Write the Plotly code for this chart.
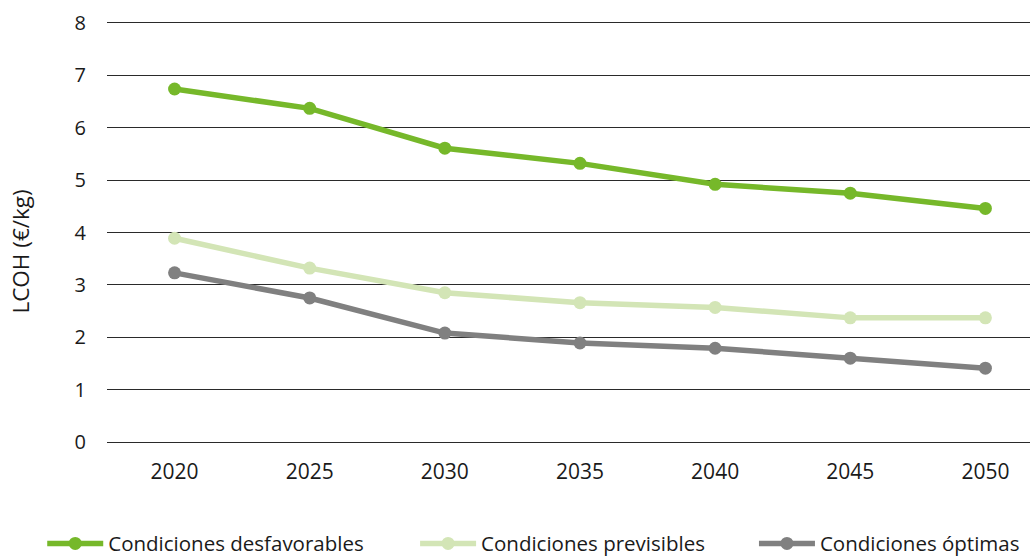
import plotly.graph_objects as go

years = ["2020", "2025", "2030", "2035", "2040", "2045", "2050"]
desfavorables = [6.74, 6.37, 5.61, 5.32, 4.92, 4.75, 4.46]
previsibles = [3.89, 3.32, 2.85, 2.66, 2.57, 2.37, 2.37]
optimas = [3.23, 2.75, 2.08, 1.89, 1.79, 1.60, 1.41]

series = [
    ("Condiciones desfavorables", desfavorables, "#76b82a", "legend", 0.041),
    ("Condiciones previsibles", previsibles, "#d3e5b6", "legend2", 0.403),
    ("Condiciones óptimas", optimas, "#808080", "legend3", 0.732),
]

FONT = "Open Sans"
TEXT = "#1a1a1a"
GRID = "#2a2a2a"

fig = go.Figure()
legends = {}
for name, vals, color, leg, lx in series:
    fig.add_trace(go.Scatter(
        x=years, y=vals, name=name, mode="lines+markers",
        line=dict(color=color, width=5.5),
        marker=dict(color=color, size=13),
        legend=leg,
    ))
    legends[leg] = dict(
        orientation="h", xref="container", yref="container",
        x=lx, xanchor="left", y=0.024, yanchor="middle",
        itemwidth=56, font=dict(family=FONT, size=20.5, color=TEXT),
        bgcolor="rgba(0,0,0,0)",
    )

fig.update_layout(
    width=1030, height=557,
    margin=dict(l=107, r=0, t=23, b=115),
    paper_bgcolor="white", plot_bgcolor="white",
    font=dict(family=FONT, size=20, color=TEXT),
    showlegend=True,
    xaxis=dict(
        type="category", range=[-0.5, 6.33],
        showgrid=False, zeroline=False,
        showline=True, mirror=True, linecolor=GRID, linewidth=1.2,
        ticks="", tickfont=dict(size=21, color=TEXT), ticklabelstandoff=11,
    ),
    yaxis=dict(
        range=[0, 8], dtick=1, tick0=0,
        showgrid=True, gridcolor=GRID, gridwidth=1.2,
        zeroline=False, showline=False, ticks="",
        tickfont=dict(size=20, color=TEXT), ticklabelstandoff=20,
    ),
    annotations=[dict(
        text="LCOH (€/kg)", textangle=-90,
        xref="paper", yref="paper", x=-0.094, y=0.455,
        xanchor="center", yanchor="middle", showarrow=False,
        font=dict(family=FONT, size=22.5, color=TEXT),
    )],
    **legends,
)

fig.write_html("out.html")
